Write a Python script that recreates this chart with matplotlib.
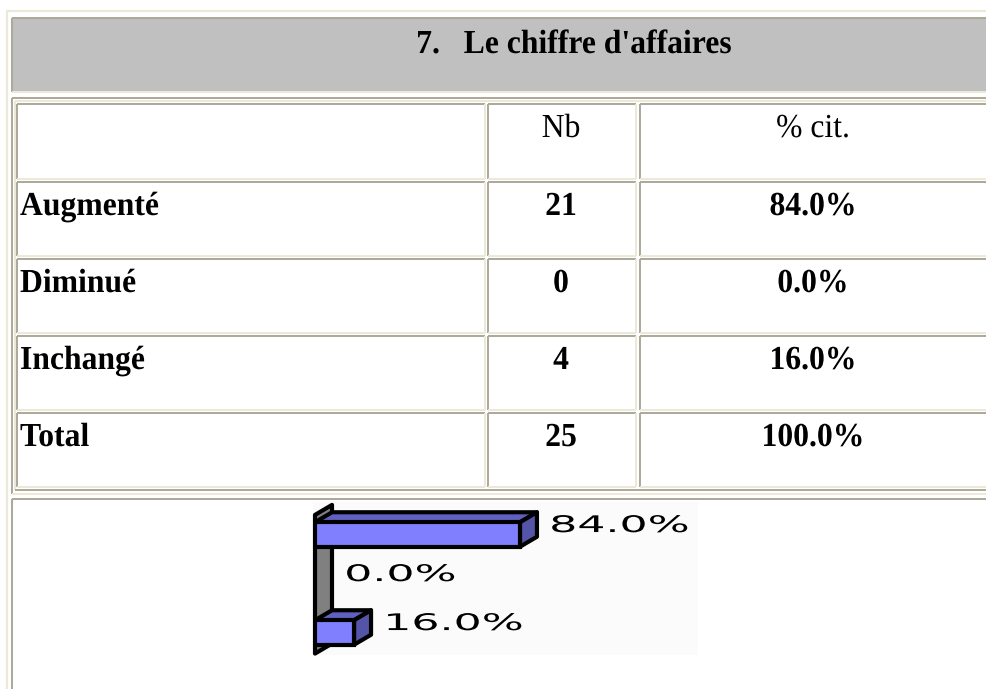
import matplotlib
matplotlib.use("Agg")
import matplotlib.pyplot as plt
from matplotlib.patches import Rectangle, Polygon
from matplotlib.transforms import Affine2D
from matplotlib import patheffects

# ---------------- data ----------------
title = "7.   Le chiffre d'affaires"
col_headers = ["", "Nb", "% cit."]
categories = ["Augmenté", "Diminué", "Inchangé"]
counts = [21, 0, 4]
percents = [84.0, 0.0, 16.0]
total_label = "Total"
total_count = 25
total_percent = 100.0

# ---------------- style ----------------
W, H = 987, 689
LIGHT = "#ECE9D8"
DARK = "#ACA899"
BAND = "#C0C0C0"
SERIF = ["Liberation Serif", "DejaVu Serif"]
FS = 22.8


class Stretch(patheffects.AbstractPathEffect):
    """Scale glyphs around the text's baseline origin."""

    def __init__(self, sx=1.0, sy=1.0):
        super().__init__()
        self.sx = sx
        self.sy = sy

    def draw_path(self, renderer, gc, tpath, affine, rgbFace=None):
        m = affine.get_matrix()
        x, y = m[0, 2], m[1, 2]
        t = affine + Affine2D().translate(-x, -y).scale(self.sx, self.sy).translate(x, y)
        renderer.draw_path(gc, tpath, t, rgbFace)


TALL = [Stretch(1.0, 1.06)]

fig = plt.figure(figsize=(W / 100, H / 100), dpi=100)
fig.patch.set_facecolor("white")
ax = fig.add_axes([0, 0, 1, 1])
ax.set_xlim(0, W)
ax.set_ylim(H, 0)
ax.axis("off")


def hline(y, x0, x1, c, lw=1.4):
    ax.plot([x0, x1], [y, y], color=c, lw=lw, solid_capstyle="butt")


def vline(x, y0, y1, c, lw=1.4):
    ax.plot([x, x], [y0, y1], color=c, lw=lw, solid_capstyle="butt")


def cell(x0, y0, x1, y1):
    hline(y0, x0, x1, DARK)
    vline(x0, y0, y1, DARK)
    hline(y1, x0, x1, LIGHT)
    vline(x1, y0, y1, LIGHT)


# outer container
vline(6.5, 10, H, LIGHT, lw=1.6)
hline(11, 6, W, LIGHT, lw=1.6)

# title cell
ax.add_patch(Rectangle((12, 18), W, 73, facecolor=BAND, edgecolor="none"))
cell(11.5, 17.5, W + 10, 92)
ax.text(574, 53, title, ha="center", va="baseline", fontsize=FS,
        fontweight="bold", family=SERIF, path_effects=TALL)

# data container cell
cell(11.5, 98, W + 10, 493.5)
vline(15, 101, 490, LIGHT)
hline(101, 15, W, LIGHT)
hline(490, 15, W, DARK)

cols = [(17, 485), (488, 636), (640, W + 10)]
row_tops = [104, 182, 259, 336, 413]
row_bots = [179, 256, 333, 410, 487]
for (x0, x1) in cols:
    for (y0, y1) in zip(row_tops, row_bots):
        cell(x0, y0, x1, y1)

col_centers = [20, 561, 813]
BASE = 33
# header
for j, h in enumerate(col_headers):
    if h:
        ax.text(col_centers[j], row_tops[0] + BASE, h, ha="center",
                va="baseline", fontsize=FS, family=SERIF, path_effects=TALL)

rows = list(zip(categories, counts, percents)) + [(total_label, total_count, total_percent)]
for r, (lab, n, p) in enumerate(rows):
    yb = row_tops[r + 1] + BASE
    ax.text(col_centers[0], yb, lab, ha="left", va="baseline", fontsize=FS,
            fontweight="bold", family=SERIF, path_effects=TALL)
    ax.text(col_centers[1], yb, f"{n}", ha="center", va="baseline", fontsize=FS,
            fontweight="bold", family=SERIF, path_effects=TALL)
    ax.text(col_centers[2], yb, f"{p:.1f}%", ha="center", va="baseline",
            fontsize=FS, fontweight="bold", family=SERIF, path_effects=TALL)

# chart container cell
cell(11.5, 499, W + 10, H + 10)

# ---------------- 3D-like bar chart ----------------
px0, px1, py0, py1 = 313, 698, 502, 655
ax2 = fig.add_axes([px0 / W, (H - py1) / H, (px1 - px0) / W, (py1 - py0) / H])
ax2.set_facecolor("#FBFBFB")
for s in ax2.spines.values():
    s.set_visible(False)
ax2.set_xticks([])
ax2.set_yticks([])

PX_PER_PCT = 2.44
PX_PER_CAT = 49.0
X0PX = 315
Y0PX = 534.5
ax2.set_xlim((px0 - X0PX) / PX_PER_PCT, (px1 - X0PX) / PX_PER_PCT)
ax2.set_ylim((py1 - Y0PX) / PX_PER_CAT, (py0 - Y0PX) / PX_PER_CAT)

dx = 17 / PX_PER_PCT
dy = 10 / PX_PER_CAT
bh = 0.5
LW = 3.0
FRONT = "#8080FF"
TOP = "#6060C0"
SIDE = "#5454A8"
WALL = "#808080"
JOIN = "round"

n = len(categories)
wall_top = -bh / 2 - 0.15
wall_bot = (n - 1) + bh / 2 + 0.18
ax2.add_patch(Polygon([(0, wall_top), (dx, wall_top - dy), (dx, wall_bot - dy), (0, wall_bot)],
                      closed=True, facecolor=WALL, edgecolor="black", lw=LW, zorder=1,
                      joinstyle=JOIN, clip_on=False))

for i, p in enumerate(percents):
    if p > 0:
        yt, yb = i - bh / 2, i + bh / 2
        ax2.add_patch(Polygon([(0, yt), (dx, yt - dy), (p + dx, yt - dy), (p, yt)],
                              closed=True, facecolor=TOP, edgecolor="black", lw=LW,
                              zorder=2, joinstyle=JOIN))
        ax2.add_patch(Polygon([(p, yt), (p + dx, yt - dy), (p + dx, yb - dy), (p, yb)],
                              closed=True, facecolor=SIDE, edgecolor="black", lw=LW,
                              zorder=2, joinstyle=JOIN))
        ax2.barh(i, p, height=bh, color=FRONT, edgecolor="black", lw=LW, zorder=3)
    ax2.text(p + dx + 5.0, i - 0.05, f"{p:.1f}%", ha="left", va="baseline",
             fontsize=16.5, color="black", family="DejaVu Sans", zorder=4,
             path_effects=[Stretch(1.93, 1.0)])

fig.savefig("out.png", dpi=100, facecolor="white")
